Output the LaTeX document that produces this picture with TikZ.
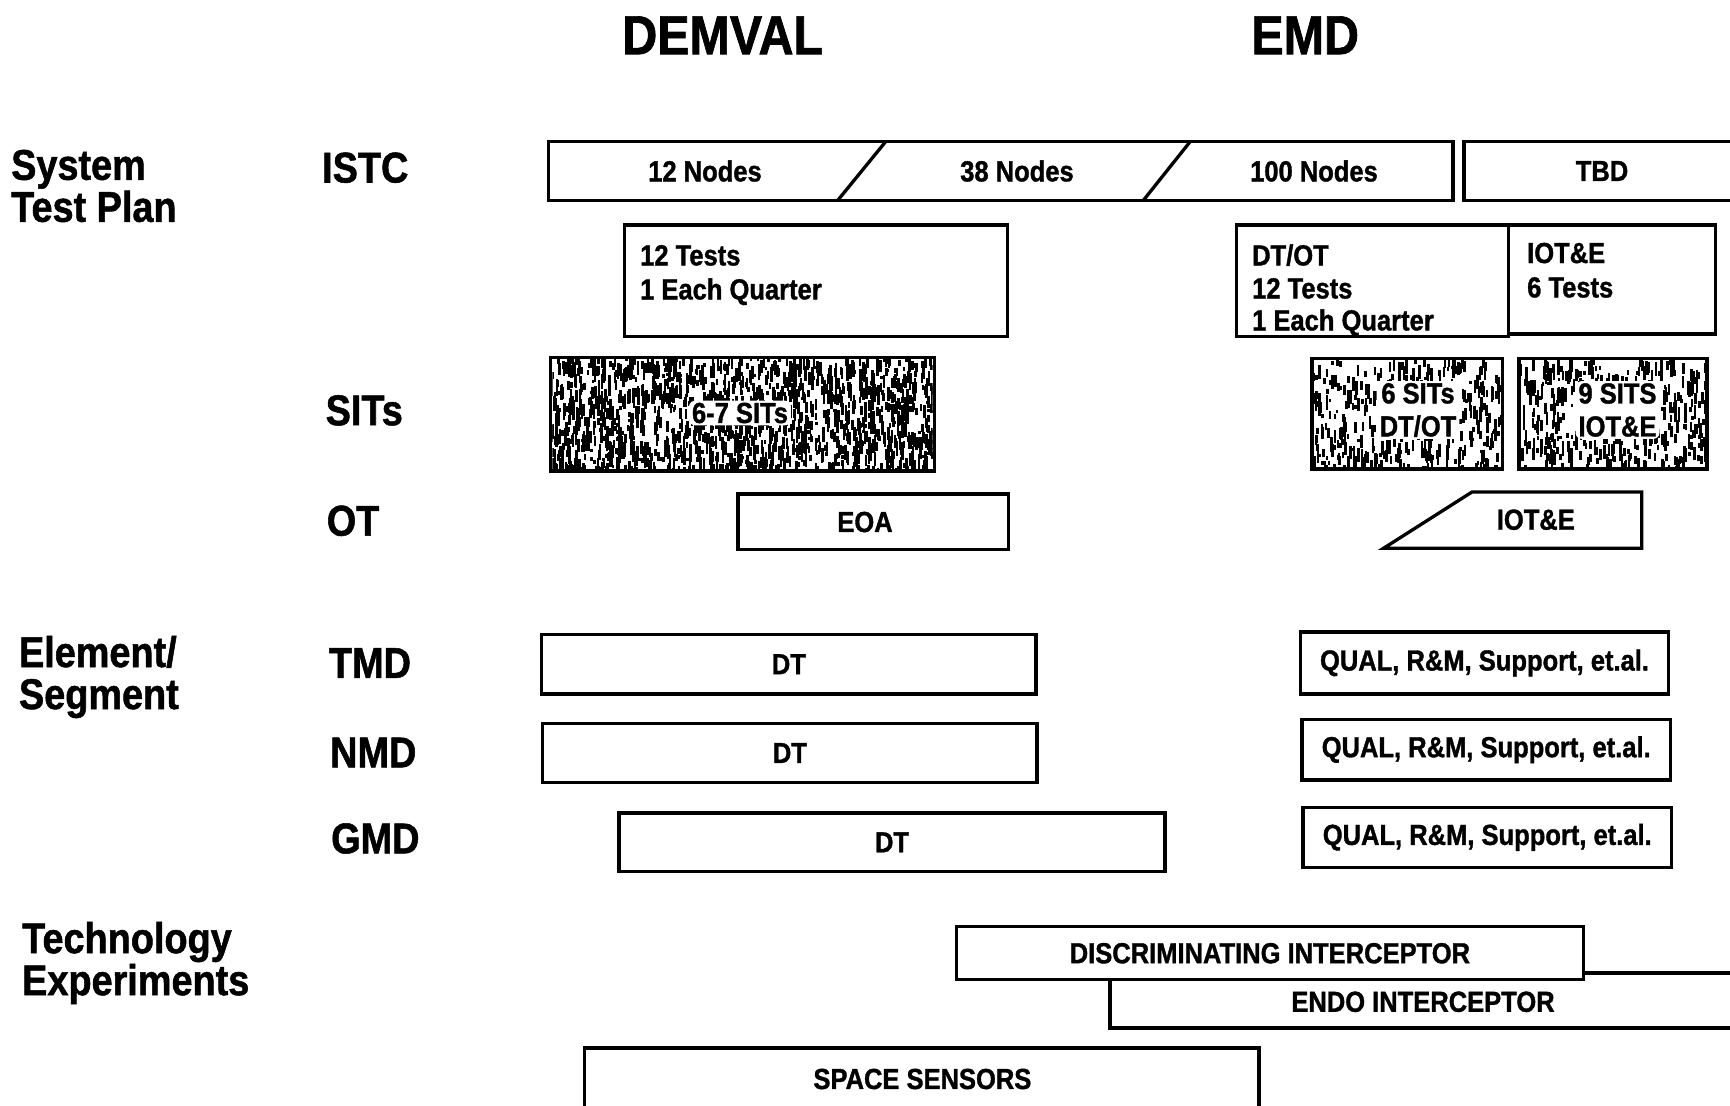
\documentclass[tikz,border=0pt]{standalone}
\usepackage{fontspec}
\setmainfont{Liberation Sans}[FakeStretch=0.88, BoldFeatures={FakeBold=1.2}]
\newcommand\txtbox{\fontsize{29}{33}\selectfont\bfseries}
\newcommand\txtlab{\fontsize{43}{42}\selectfont\bfseries}
\newcommand\txthead{\fontsize{55}{60}\selectfont\bfseries}
\newcommand\speckle[2]{%
  \begin{scope}
  \clip ([xshift=3.5pt,yshift=3.5pt]#1.south west) rectangle ([xshift=-3.5pt,yshift=-3.5pt]#1.north east);
  \foreach \k in {1,...,#2}{
    \fill ([xshift={rnd*400}, yshift={-rnd*125}]#1.north west) rectangle ++(2.6, {3+rnd*12});
  }
  \end{scope}}
\begin{document}
\begin{tikzpicture}[x=1pt,y=-1pt,
  bx/.style={draw, line width=3.3pt, fill=white, inner sep=0pt, font=\txtbox},
  ln/.style={line width=3.3pt},
  tl/.style={anchor=base west, inner sep=0pt, font=\txtbox},
  tc/.style={inner sep=0pt, font=\txtbox},
  rl/.style={anchor=west, inner sep=0pt, font=\txtlab, align=left},
  hd/.style={inner sep=0pt, font=\txthead},
  sittext/.style={inner xsep=3pt, inner ysep=2pt, font=\txtbox, align=center, fill=white, rounded corners=6pt}]
\useasboundingbox (0,0) rectangle (1730,1106);
\clip (0,0) rectangle (1730,1106);
\pgfmathsetseed{4242}

% headers
\node[hd] (demval) at (722.7,35.3) {DEMVAL};
\node[hd] (emd) at (1305.2,35.3) {EMD};

% row labels
\node[rl] (stp) at (11,186) {System\\Test Plan};
\node[rl] (istclab) at (322,167.7) {ISTC};
\node[rl] (sitslab) at (325.5,410.4) {SITs};
\node[rl] (otlab) at (326.6,520.8) {OT};
\node[rl] (elseg) at (18.8,677) {Element/\\Segment};
\node[rl] (tmdlab) at (328.8,663) {TMD};
\node[rl] (nmdlab) at (330,752.5) {NMD};
\node[rl] (gmdlab) at (331,838.5) {GMD};
\node[rl] (techlab) at (22,963) {Technology\\Experiments};

% ISTC bar
\node[bx, minimum width=904.6pt, minimum height=59.6pt] (istc) at (1000.7,171) {};
\coordinate (s1t) at (886,141.2);
\coordinate (s1b) at (837.4,200.8);
\coordinate (s2t) at (1190.5,141.2);
\coordinate (s2b) at (1143,200.8);
\draw[ln] (s1t) -- (s1b);
\draw[ln] (s2t) -- (s2b);
\node[tc] (n12) at (705,171) {12 Nodes};
\node[tc] (n38) at (1017,171) {38 Nodes};
\node[tc] (n100) at (1314,171) {100 Nodes};
\node[bx, minimum width=296pt, minimum height=59.6pt] (tbd) at (1612,171) {};
\node[tc] (tbdtxt) at (1602,171) {TBD};

% tests boxes
\node[bx, minimum width=382.8pt, minimum height=111.5pt] (tests1) at (815.9,280.75) {};
\node[tl] (t1a) at (640,265.4) {12 Tests};
\node[tl] (t1b) at (640,299.4) {1 Each Quarter};
\node[bx, minimum width=271.4pt, minimum height=111.5pt] (dtot) at (1372.5,280.75) {};
\node[tl] (t2a) at (1252,265.4) {DT/OT};
\node[tl] (t2b) at (1252,298.4) {12 Tests};
\node[tl] (t2c) at (1252,330.4) {1 Each Quarter};
\node[bx, minimum width=207.4pt, minimum height=109pt] (iotebox) at (1611.9,279.5) {};
\node[tl] (t3a) at (1527,263) {IOT\&E};
\node[tl] (t3b) at (1527,297.4) {6 Tests};

% SITs
\node[bx, minimum width=384pt, minimum height=113.5pt] (sit1) at (742.5,414.25) {};
\speckle{sit1}{1900}
\node[sittext] (sit1t) at (740,413) {6-7 SITs};
\node[bx, minimum width=190.7pt, minimum height=110.4pt] (sit2) at (1407.35,413.8) {};
\speckle{sit2}{1000}
\node[sittext] (sit2t) at (1418,410) {6 SITs\\DT/OT};
\node[bx, minimum width=188pt, minimum height=110.4pt] (sit3) at (1613,413.8) {};
\speckle{sit3}{1000}
\node[sittext] (sit3t) at (1617.5,410) {9 SITS\\IOT\&E};

% OT
\node[bx, minimum width=270.4pt, minimum height=55.5pt] (eoa) at (873.2,521.75) {};
\node[tc] (eoat) at (865,522) {EOA};
\coordinate (ot1) at (1472,492);
\coordinate (ot2) at (1641.7,492);
\coordinate (ot3) at (1641.7,548.3);
\coordinate (ot4) at (1383.5,548.3);
\draw[ln, fill=white, line join=miter] (ot1) -- (ot2) -- (ot3) -- (ot4) -- cycle;
\node[tc] (otiote) at (1535.8,519.7) {IOT\&E};

% Element / Segment
\node[bx, minimum width=494.3pt, minimum height=59.6pt] (tmddt) at (788.85,664.2) {DT};
\node[bx, minimum width=367.4pt, minimum height=62pt] (tmdq) at (1484.5,663) {QUAL, R\&M, Support, et.al.};
\node[bx, minimum width=494.2pt, minimum height=58.4pt] (nmddt) at (789.9,753) {DT};
\node[bx, minimum width=368.4pt, minimum height=60.6pt] (nmdq) at (1486.2,749.7) {QUAL, R\&M, Support, et.al.};
\node[bx, minimum width=546pt, minimum height=58.6pt] (gmddt) at (892,842.3) {DT};
\node[bx, minimum width=368.5pt, minimum height=59.6pt] (gmdq) at (1487.25,837.4) {QUAL, R\&M, Support, et.al.};

% Technology experiments
\node[bx, minimum width=670pt, minimum height=55pt] (endo) at (1445,1000.5) {};
\node[tc] (endot) at (1423,1001.8) {ENDO INTERCEPTOR};
\node[bx, minimum width=626.6pt, minimum height=52.9pt] (disc) at (1269.9,953.25) {DISCRIMINATING INTERCEPTOR};
\node[bx, minimum width=674.2pt, minimum height=92pt] (space) at (921.8,1094) {};
\node[tc] (spacet) at (922.4,1079) {SPACE SENSORS};
\end{tikzpicture}
\end{document}
